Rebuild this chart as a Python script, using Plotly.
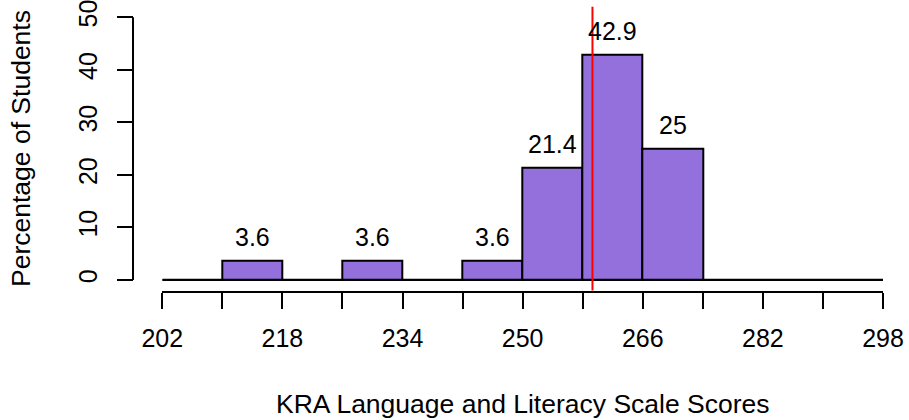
import plotly.graph_objects as go

# ---- data ----
bin_edges = [202, 210, 218, 226, 234, 242, 250, 258, 266, 274, 282, 290, 298]
percent_students = [0, 3.6, 0, 3.6, 0, 3.6, 21.4, 42.9, 25, 0, 0, 0]
x_tick_values = [202, 210, 218, 226, 234, 242, 250, 258, 266, 274, 282, 290, 298]
x_tick_labels = ["202", "", "218", "", "234", "", "250", "", "266", "", "282", "", "298"]
y_tick_values = [0, 10, 20, 30, 40, 50]
y_tick_labels = ["0", "10", "20", "30", "40", "50"]
mean_score = 259.3
x_title = "KRA Language and Literacy Scale Scores"
y_title = "Percentage of Students"

# ---- derived ----
bin_centers = [(a + b) / 2 for a, b in zip(bin_edges[:-1], bin_edges[1:])]
bin_widths = [b - a for a, b in zip(bin_edges[:-1], bin_edges[1:])]

W, H = 909, 420
FONT = "Liberation Sans, Arial, sans-serif"
FS = 25
FS_TITLE = 26.5
BAR_FILL = "#9370DB"


def px_x(p):
    return p / W


def px_y(p):
    return (H - p) / H


fig = go.Figure()

# baseline for empty bins (R draws zero-height bars as flat lines)
fig.add_trace(go.Scatter(
    x=[bin_edges[0], bin_edges[-1]], y=[0, 0], mode="lines",
    line=dict(color="black", width=2), hoverinfo="skip", showlegend=False,
))

fig.add_trace(go.Bar(
    x=bin_centers, y=percent_students, width=bin_widths,
    marker=dict(color=BAR_FILL, line=dict(color="black", width=2)),
    showlegend=False,
))

# bar value labels (non-empty bins)
for c, v in zip(bin_centers, percent_students):
    if v > 0:
        fig.add_annotation(
            x=c, y=v, xref="x", yref="y", text=f"{v:g}", showarrow=False,
            yanchor="middle", yshift=24, font=dict(family=FONT, size=FS, color="black"),
        )

# mean line
fig.add_shape(
    type="line", xref="x", yref="y domain", x0=mean_score, x1=mean_score,
    y0=0, y1=1, line=dict(color="red", width=2), layer="above",
)

# y axis line from first to last tick
y_axis_pos = px_x(133)
fig.add_shape(
    type="line", xref="paper", yref="y", x0=y_axis_pos, x1=y_axis_pos,
    y0=y_tick_values[0], y1=y_tick_values[-1], line=dict(color="black", width=2),
)

# axis titles
fig.add_annotation(
    x=px_x(522.5), y=px_y(404), xref="paper", yref="paper", text=x_title,
    showarrow=False, xanchor="center", yanchor="middle",
    font=dict(family=FONT, size=FS_TITLE, color="black"),
)
fig.add_annotation(
    x=px_x(21), y=px_y(149), xref="paper", yref="paper", text=y_title,
    showarrow=False, xanchor="center", yanchor="middle", textangle=-90,
    font=dict(family=FONT, size=FS_TITLE, color="black"),
)

fig.update_layout(
    width=W, height=H,
    margin=dict(l=0, r=0, t=0, b=0, autoexpand=False),
    paper_bgcolor="white", plot_bgcolor="white",
    font=dict(family=FONT, size=FS, color="black"),
    bargap=0,
    xaxis=dict(
        domain=[px_x(162.3), px_x(883)], range=[bin_edges[0], bin_edges[-1]],
        tickmode="array", tickvals=x_tick_values, ticktext=x_tick_labels,
        ticks="outside", ticklen=16, tickwidth=2, tickcolor="black",
        ticklabelstandoff=8, ticklabeloverflow="allow",
        showline=True, linecolor="black", linewidth=2,
        showgrid=False, zeroline=False,
        tickfont=dict(family=FONT, size=FS, color="black"),
    ),
    yaxis=dict(
        domain=[px_y(290.5), px_y(6.8)], range=[-2, 52],
        anchor="free", position=y_axis_pos,
        tickmode="array", tickvals=y_tick_values, ticktext=y_tick_labels,
        tickangle=-90,
        ticks="outside", ticklen=16, tickwidth=2, tickcolor="black",
        ticklabelstandoff=10, ticklabeloverflow="allow",
        showline=False, showgrid=False, zeroline=False,
        tickfont=dict(family=FONT, size=FS, color="black"),
    ),
)

fig.write_html(
    "out.html",
    config={"displayModeBar": False},
    post_script="document.body.style.margin='0';document.body.style.padding='0';",
)
